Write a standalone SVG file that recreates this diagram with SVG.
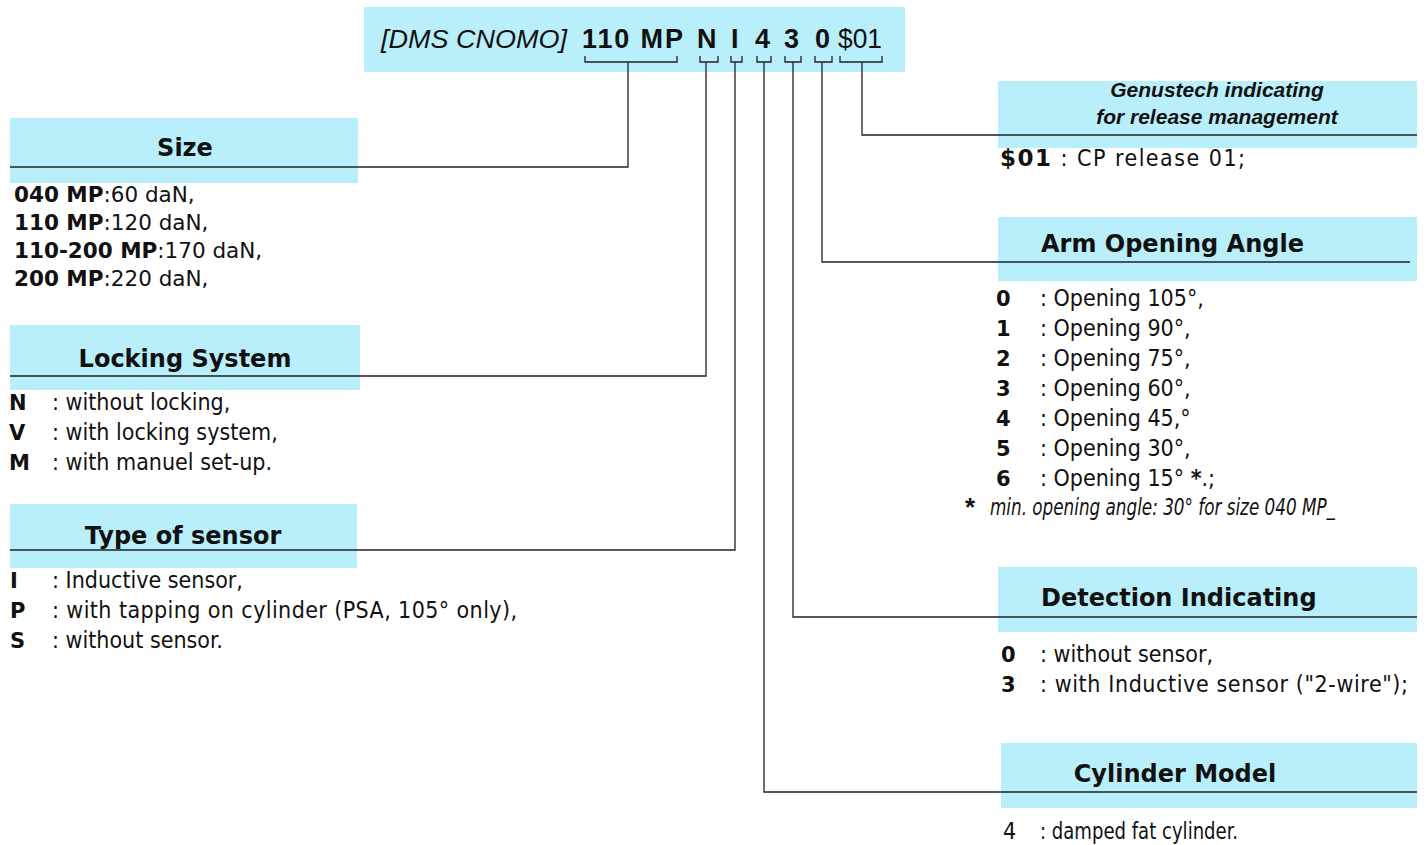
<svg xmlns="http://www.w3.org/2000/svg" width="1426" height="845" viewBox="0 0 1426 845">
<style>
.box{fill:#b9eefb}
.hd{font-family:"DejaVu Sans",Verdana,sans-serif;font-weight:bold;font-size:24px;fill:#111}
.it{font-family:"DejaVu Sans",Verdana,sans-serif;font-size:21.5px;fill:#111}
.b{font-weight:bold;font-family:"DejaVu Sans",Verdana,sans-serif}
.ln{font-family:"DejaVu Sans Condensed","DejaVu Sans",sans-serif;font-size:23px;fill:#111}
.ar{font-family:"Liberation Sans",Arial,sans-serif;fill:#111}
.k{font-family:"DejaVu Sans",Verdana,sans-serif;font-weight:bold;font-size:21px;fill:#111}
.con{fill:none;stroke:#222;stroke-width:1.3}
</style>
<rect width="1426" height="845" fill="#fff"/>
<g id="code">
<rect class="box" x="364" y="7" width="541" height="65"/>
<text class="ar" x="381" y="48" font-size="26" font-style="italic" textLength="186" lengthAdjust="spacingAndGlyphs">[DMS CNOMO]</text>
<text class="ar" x="582" y="48" font-size="27" font-weight="bold" textLength="101" lengthAdjust="spacing">110  MP</text>
<text class="ar" x="697" y="48" font-size="27" font-weight="bold">N</text>
<text class="ar" x="731" y="48" font-size="27" font-weight="bold">I</text>
<text class="ar" x="755" y="48" font-size="27" font-weight="bold">4</text>
<text class="ar" x="784" y="48" font-size="27" font-weight="bold">3</text>
<text class="ar" x="815" y="48" font-size="27" font-weight="bold">0</text>
<text class="ar" x="838" y="48" font-size="27" textLength="44" lengthAdjust="spacingAndGlyphs">$01</text>
</g>
<g id="size">
<rect class="box" x="10" y="118" width="348" height="65"/>
<text class="hd" x="185" y="156" text-anchor="middle">Size</text>
<text class="it" x="14" y="202"><tspan class="b">040 MP</tspan>:60 daN,</text>
<text class="it" x="14" y="230"><tspan class="b">110 MP</tspan>:120 daN,</text>
<text class="it" x="14" y="258"><tspan class="b">110-200 MP</tspan>:170 daN,</text>
<text class="it" x="14" y="286"><tspan class="b">200 MP</tspan>:220 daN,</text>
</g>
<g id="locking">
<rect class="box" x="10" y="325" width="350" height="65"/>
<text class="hd" x="185" y="367" text-anchor="middle">Locking System</text>
<text class="k" x="9" y="410">N</text>
<text class="ln" x="52" y="410">: without locking,</text>
<text class="k" x="9" y="440">V</text>
<text class="ln" x="52" y="440">: with locking system,</text>
<text class="k" x="9" y="470">M</text>
<text class="ln" x="52" y="470">: with manuel set-up.</text>
</g>
<g id="sensor">
<rect class="box" x="10" y="504" width="347" height="64"/>
<text class="hd" x="183" y="544" text-anchor="middle">Type of sensor</text>
<text class="k" x="10" y="588">I</text>
<text class="ln" x="52" y="588">: Inductive sensor,</text>
<text class="k" x="10" y="618">P</text>
<text class="ln" x="52" y="618" textLength="465">: with tapping on cylinder (PSA, 105° only),</text>
<text class="k" x="10" y="648">S</text>
<text class="ln" x="52" y="648">: without sensor.</text>
</g>
<g id="release">
<rect class="box" x="998" y="81" width="419" height="67"/>
<text class="ar" x="1217" y="97" font-size="21" font-weight="bold" font-style="italic" text-anchor="middle">Genustech indicating</text>
<text class="ar" x="1217" y="124" font-size="21" font-weight="bold" font-style="italic" text-anchor="middle">for release management</text>
<text class="ln" x="1000" y="166" font-size="25" textLength="245"><tspan class="b">$01</tspan> : CP release 01;</text>
</g>
<g id="arm">
<rect class="box" x="998" y="217" width="419" height="64"/>
<text class="hd" x="1041" y="252">Arm Opening Angle</text>
<text class="k" x="996" y="306">0</text><text class="ln" x="1040" y="306">: Opening 105°,</text>
<text class="k" x="996" y="336">1</text><text class="ln" x="1040" y="336">: Opening 90°,</text>
<text class="k" x="996" y="366">2</text><text class="ln" x="1040" y="366">: Opening 75°,</text>
<text class="k" x="996" y="396">3</text><text class="ln" x="1040" y="396">: Opening 60°,</text>
<text class="k" x="996" y="426">4</text><text class="ln" x="1040" y="426">: Opening 45,°</text>
<text class="k" x="996" y="456">5</text><text class="ln" x="1040" y="456">: Opening 30°,</text>
<text class="k" x="996" y="486">6</text><text class="ln" x="1040" y="486">: Opening 15° <tspan font-weight="bold">*</tspan>.;</text>
<text class="ar" x="965" y="516" font-size="26" font-weight="bold">*</text>
<text class="ln" x="990" y="515" font-size="14" font-style="italic" textLength="345" lengthAdjust="spacingAndGlyphs">min. opening angle: 30° for size 040 MP_</text>
</g>
<g id="detection">
<rect class="box" x="998" y="567" width="419" height="65"/>
<text class="hd" x="1041" y="606">Detection Indicating</text>
<text class="k" x="1001" y="662">0</text><text class="ln" x="1040" y="662">: without sensor,</text>
<text class="k" x="1001" y="692">3</text><text class="ln" x="1040" y="692" textLength="368">: with Inductive sensor ("2-wire");</text>
</g>
<g id="cylinder">
<rect class="box" x="1001" y="743" width="416" height="65"/>
<text class="hd" x="1175" y="782" text-anchor="middle">Cylinder Model</text>
<text class="ln" x="1003" y="839">4</text><text class="ln" x="1040" y="839" textLength="198" lengthAdjust="spacingAndGlyphs">: damped fat cylinder.</text>
</g>
<g id="connectors" class="con">
<path d="M585 56V62H677V56M628 62V167H10"/>
<path d="M700 56V62H718V56M706 62V376H10"/>
<path d="M731 56V62H742V56M735 62V550H10"/>
<path d="M757 56V62H771V56M764 62V792H1417"/>
<path d="M785 56V62H801V56M793 62V617H1417"/>
<path d="M815 56V62H832V56M822 62V262H1410"/>
<path d="M840 56V62H882V56M862 62V135H1417"/>
</g>
</svg>
